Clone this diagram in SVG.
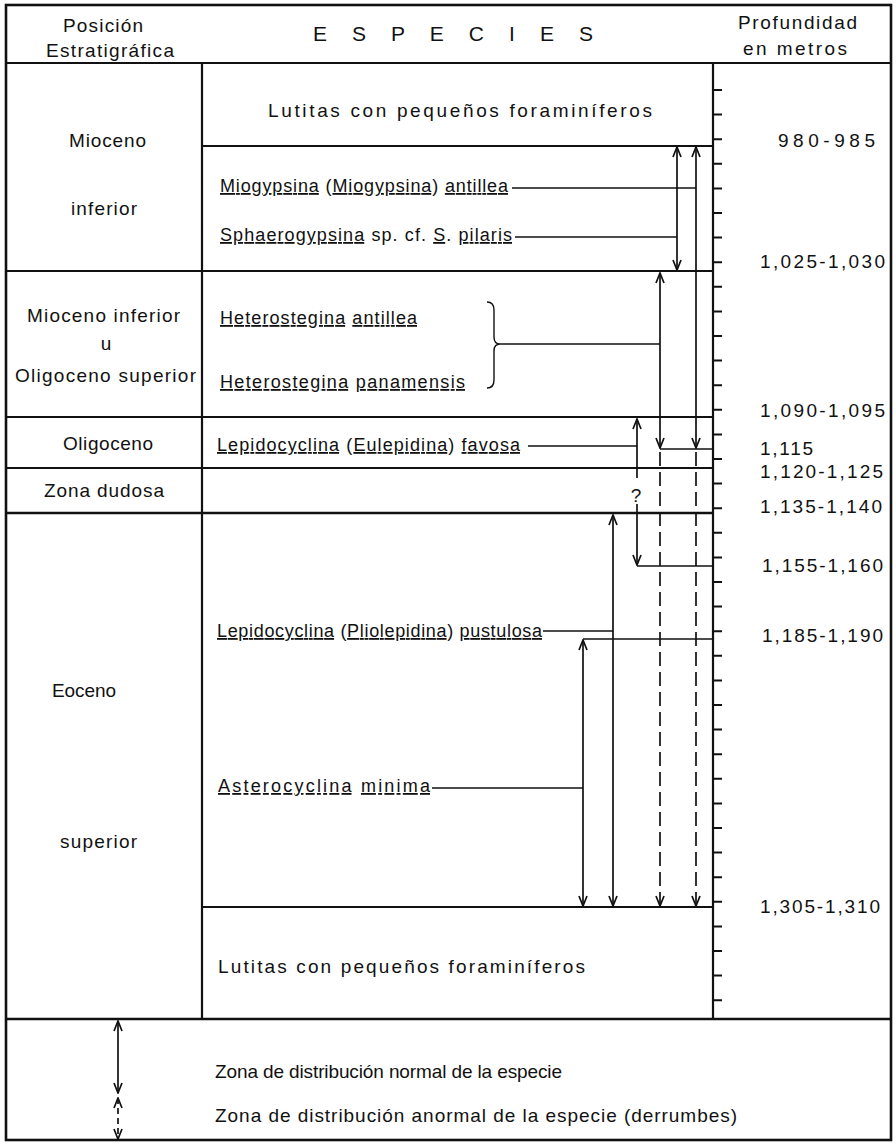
<svg xmlns="http://www.w3.org/2000/svg" width="896" height="1145" viewBox="0 0 896 1145">
<style>
text{font-family:"Liberation Sans",Arial,sans-serif;font-size:19px;fill:#111}
.sp{font-size:18px}
.u{text-decoration:underline}
.hd{font-size:21px}
line,path,rect{stroke:#111;fill:none}
.frame{stroke-width:2.6}
.grid{stroke-width:2.2}
.conn{stroke-width:1.4}
.arr{stroke-width:1.7}
.dash{stroke-dasharray:14 6}
.tick{stroke-width:2}
</style>
<defs>
<marker id="ah" viewBox="-12 -6 13 12" refX="0" refY="0" markerWidth="13" markerHeight="12" markerUnits="userSpaceOnUse" orient="auto-start-reverse">
<path d="M-10,-4 L0,0 L-10,4" style="stroke:#111;stroke-width:1.7;fill:none"/>
</marker>
</defs>
<rect x="0" y="0" width="896" height="1145" style="fill:#fff;stroke:none"/>

<g id="frame">
<rect x="6" y="5" width="885" height="1135" class="frame"/>
<line x1="6" y1="63" x2="891" y2="63" class="grid"/>
<line x1="6" y1="1019" x2="891" y2="1019" class="frame"/>
<line x1="202" y1="63" x2="202" y2="1019" class="grid"/>
<line x1="713" y1="63" x2="713" y2="1019" class="grid"/>
<line x1="202" y1="146" x2="713" y2="146" class="grid"/>
<line x1="6" y1="271" x2="713" y2="271" class="grid"/>
<line x1="6" y1="417" x2="713" y2="417" class="grid"/>
<line x1="6" y1="468" x2="713" y2="468" class="grid"/>
<line x1="6" y1="513" x2="713" y2="513" class="frame"/>
<line x1="202" y1="907" x2="713" y2="907" class="grid"/>
<path class="tick" d="M713 90h9M713 114.6h9M713 139.2h9M713 163.8h9M713 188.4h9M713 213h9M713 237.6h9M713 262.2h9M713 286.8h9M713 311.4h9M713 336h9M713 360.6h9M713 385.2h9M713 409.8h9M713 434.4h9M713 459h9M713 483.6h9M713 508.2h9M713 532.8h9M713 557.4h9M713 582h9M713 606.6h9M713 631.2h9M713 655.8h9M713 680.4h9M713 705h9M713 729.6h9M713 754.2h9M713 778.8h9M713 803.4h9M713 828h9M713 852.6h9M713 877.2h9M713 901.8h9M713 926.4h9M713 951h9M713 975.6h9M713 1000.2h9"/>
</g>

<g id="header">
<text x="63" y="32" textLength="80" lengthAdjust="spacing">Posición</text>
<text x="46" y="57" textLength="128" lengthAdjust="spacing">Estratigráfica</text>
<text x="313" y="41" class="hd" textLength="280" lengthAdjust="spacing">E S P E C I E S</text>
<text x="738" y="29" textLength="119" lengthAdjust="spacing">Profundidad</text>
<text x="743" y="55" textLength="104" lengthAdjust="spacing">en metros</text>
</g>

<g id="stratigraphy">
<text x="69" y="147" textLength="77" lengthAdjust="spacing">Mioceno</text>
<text x="71" y="215" textLength="66" lengthAdjust="spacing">inferior</text>
<text x="27" y="322" textLength="153" lengthAdjust="spacing">Mioceno inferior</text>
<text x="106" y="350" text-anchor="middle">u</text>
<text x="15" y="382" textLength="181" lengthAdjust="spacing">Oligoceno superior</text>
<text x="63" y="450" textLength="90" lengthAdjust="spacing">Oligoceno</text>
<text x="44" y="497" textLength="120" lengthAdjust="spacing">Zona dudosa</text>
<text x="52" y="697" textLength="64" lengthAdjust="spacing">Eoceno</text>
<text x="60" y="848" textLength="77" lengthAdjust="spacing">superior</text>
</g>

<g id="species">
<text x="268" y="117" textLength="384" lengthAdjust="spacing">Lutitas con pequeños foraminíferos</text>
<text x="220" y="192" class="sp" textLength="288" lengthAdjust="spacing"><tspan class="u">Miogypsina</tspan> (<tspan class="u">Miogypsina</tspan>) <tspan class="u">antillea</tspan></text>
<text x="220" y="241" class="sp" textLength="292" lengthAdjust="spacing"><tspan class="u">Sphaerogypsina</tspan> sp. cf. <tspan class="u">S</tspan>. <tspan class="u">pilaris</tspan></text>
<text x="220" y="324" class="sp" textLength="197" lengthAdjust="spacing"><tspan class="u">Heterostegina</tspan> <tspan class="u">antillea</tspan></text>
<text x="220" y="388" class="sp" textLength="245" lengthAdjust="spacing"><tspan class="u">Heterostegina</tspan> <tspan class="u">panamensis</tspan></text>
<path class="conn" d="M487,302 Q494,302 494,310 L494,337 Q494,344 500,344 Q494,344 494,351 L494,380 Q494,388 487,388"/>
<text x="217" y="451" class="sp" textLength="303" lengthAdjust="spacing"><tspan class="u">Lepidocyclina</tspan> (<tspan class="u">Eulepidina</tspan>) <tspan class="u">favosa</tspan></text>
<text x="217" y="637" class="sp" textLength="325" lengthAdjust="spacing"><tspan class="u">Lepidocyclina</tspan> (<tspan class="u">Pliolepidina</tspan>) <tspan class="u">pustulosa</tspan></text>
<text x="218" y="792" class="sp" textLength="212" lengthAdjust="spacing"><tspan class="u">Asterocyclina</tspan> <tspan class="u">minima</tspan></text>
<text x="218" y="973" textLength="367" lengthAdjust="spacing">Lutitas con pequeños foraminíferos</text>
<text x="636" y="502" text-anchor="middle">?</text>
</g>

<g id="depths">
<text x="778" y="147" textLength="97" lengthAdjust="spacing">980-985</text>
<text x="760" y="268" textLength="125" lengthAdjust="spacing">1,025-1,030</text>
<text x="760" y="417" textLength="125" lengthAdjust="spacing">1,090-1,095</text>
<text x="760" y="455" textLength="53" lengthAdjust="spacing">1,115</text>
<text x="760" y="478" textLength="123" lengthAdjust="spacing">1,120-1,125</text>
<text x="760" y="513" textLength="122" lengthAdjust="spacing">1,135-1,140</text>
<text x="762" y="572" textLength="121" lengthAdjust="spacing">1,155-1,160</text>
<text x="762" y="642" textLength="121" lengthAdjust="spacing">1,185-1,190</text>
<text x="760" y="913" textLength="120" lengthAdjust="spacing">1,305-1,310</text>
</g>

<g id="connectors">
<line class="conn" x1="512" y1="188" x2="696" y2="188"/>
<line class="conn" x1="515" y1="237" x2="677" y2="237"/>
<line class="conn" x1="500" y1="344" x2="660" y2="344"/>
<line class="conn" x1="528" y1="446" x2="637" y2="446"/>
<line class="conn" x1="543" y1="631" x2="613" y2="631"/>
<line class="conn" x1="432" y1="788" x2="583" y2="788"/>
<line class="conn" x1="660" y1="449" x2="713" y2="449"/>
<line class="conn" x1="637" y1="566" x2="713" y2="566"/>
<line class="conn" x1="583" y1="639" x2="713" y2="639"/>
<path class="arr" d="M677,147 V270" marker-start="url(#ah)" marker-end="url(#ah)"/>
<path class="arr" d="M696,147 V448" marker-start="url(#ah)" marker-end="url(#ah)"/>
<path class="arr dash" d="M696,452 V906" marker-end="url(#ah)"/>
<path class="arr" d="M660,273 V448" marker-start="url(#ah)" marker-end="url(#ah)"/>
<path class="arr dash" d="M660,452 V906" marker-end="url(#ah)"/>
<path class="arr" d="M637,419 V478" marker-start="url(#ah)"/>
<path class="arr" d="M637,504 V565" marker-end="url(#ah)"/>
<path class="arr" d="M613,515 V906" marker-start="url(#ah)" marker-end="url(#ah)"/>
<path class="arr" d="M583,640 V906" marker-start="url(#ah)" marker-end="url(#ah)"/>
</g>

<g id="legend">
<path class="arr" d="M118,1021 V1093" marker-start="url(#ah)" marker-end="url(#ah)"/>
<path class="arr" d="M118,1098 V1139" stroke-dasharray="6 4" marker-start="url(#ah)" marker-end="url(#ah)"/>
<text x="215" y="1078" textLength="347" lengthAdjust="spacing">Zona de distribución normal de la especie</text>
<text x="215" y="1122" textLength="522" lengthAdjust="spacing">Zona de distribución anormal de la especie (derrumbes)</text>
</g>
</svg>
